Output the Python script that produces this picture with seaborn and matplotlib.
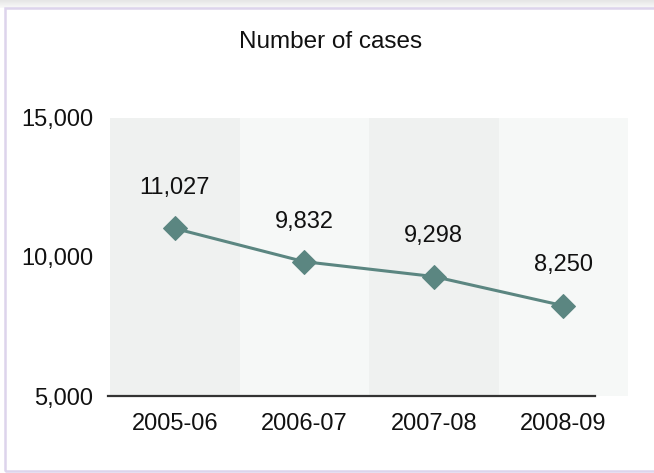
import numpy as np
import pandas as pd
import matplotlib
matplotlib.use("Agg")
import matplotlib.pyplot as plt
from matplotlib.patches import Rectangle
import seaborn as sns

# Data
years = ["2005-06", "2006-07", "2007-08", "2008-09"]
cases = [11027, 9832, 9298, 8250]
y_ticks = [5000, 10000, 15000]
title = "Number of cases"

line_color = "#5b8681"
band_colors = ["#eff1f0", "#f6f8f7"]

sns.set_theme(style="white")
plt.rcParams["font.family"] = ["Liberation Sans", "DejaVu Sans"]

W, H = 654, 473
fig = plt.figure(figsize=(W / 100, H / 100), dpi=100)

# soft shadow along the top edge of the frame
shadow_ax = fig.add_axes([0, (H - 8) / H, 1, 8 / H])
grad = np.linspace(0.90, 0.97, 8).reshape(-1, 1)
shadow_ax.imshow(np.repeat(grad, 10, axis=1), cmap="gray", vmin=0, vmax=1,
                 aspect="auto", extent=[0, 1, 0, 1])
shadow_ax.set_axis_off()

# lavender frame
fig.patches.append(Rectangle((5 / W, 2 / H), 1.1, (471 - 8) / H,
                             transform=fig.transFigure, fill=False,
                             edgecolor="#ddd4ec", linewidth=1.8, zorder=5))

ax = fig.add_axes([110 / W, 77 / H, 518 / W, 278 / H])
df = pd.DataFrame({"year": years, "cases": cases})

# alternating column bands
for i in range(len(years)):
    ax.axvspan(i - 0.5, i + 0.5, color=band_colors[i % 2], lw=0, zorder=0)

sns.lineplot(data=df, x="year", y="cases", ax=ax, color=line_color,
             linewidth=2.2, marker="D", markersize=12,
             markeredgecolor=line_color, sort=False, zorder=3)

for i, v in enumerate(cases):
    ax.annotate(f"{v:,}", (i, v), xytext=(0, 21), textcoords="offset points",
                ha="center", va="bottom", fontsize=17, color="#111111")

ax.set_xlim(-0.5, len(years) - 0.5)
ax.set_ylim(5000, 15000)
ax.set_yticks(y_ticks)
ax.set_yticklabels([f"{t:,}" for t in y_ticks])
ax.set_xlabel("")
ax.set_ylabel("")
ax.tick_params(axis="both", length=0, labelsize=17, colors="#111111")
ax.tick_params(axis="x", pad=12)
ax.tick_params(axis="y", pad=12)

for s in ["top", "right", "left"]:
    ax.spines[s].set_visible(False)
ax.spines["bottom"].set_color("#333333")
ax.spines["bottom"].set_linewidth(1.6)
ax.spines["bottom"].set_bounds(-0.515, 3.245)
ax.set_facecolor("none")

fig.text(331 / W, 1 - 42 / H, title, ha="center", va="center",
         fontsize=17.5, color="#111111")

fig.savefig("out.png", dpi=100)
